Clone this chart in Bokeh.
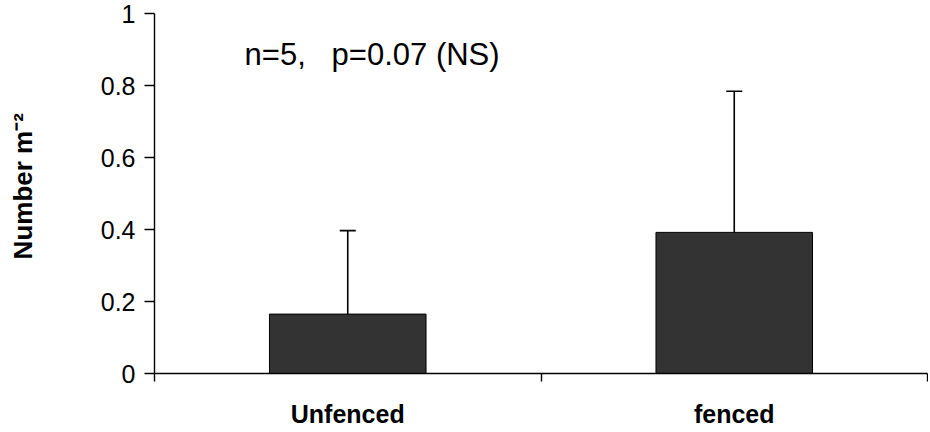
from bokeh.plotting import figure
from bokeh.models import (ColumnDataSource, FixedTicker, NumeralTickFormatter,
                          Whisker, Label, Range1d)
from bokeh.embed import file_html
from bokeh.resources import INLINE

categories = ["Unfenced", "fenced"]
means = [0.165, 0.392]
upper_err = [0.397, 0.784]
y_ticks = [0, 0.2, 0.4, 0.6, 0.8, 1.0]
NB = "\u00a0"
annotation = "n=5," + NB * 3 + "p=0.07" + NB + "(NS)"
y_label = NB * 2 + "Number" + NB + "m\u207b\u00b2"

x_pos = [i + 0.5 for i in range(len(categories))]
src = ColumnDataSource(dict(x=x_pos, top=means, upper=upper_err, cat=categories))

FONT = "Liberation Sans"

p = figure(width=928, height=430, output_backend="svg", toolbar_location=None,
           x_range=Range1d(0, len(categories)), y_range=Range1d(0, 1),
           min_border_left=154, min_border_right=1, min_border_top=13,
           min_border_bottom=55)
p.outline_line_color = None
p.grid.visible = False
p.background_fill_color = "white"

p.vbar(x="x", top="top", bottom=0, width=0.405, source=src,
       fill_color="#333333", line_color="black", line_width=1)

wh = Whisker(base="x", upper="upper", lower="top", source=src,
             line_color="black", line_width=1.6, level="glyph")
wh.upper_head.size = 16
wh.upper_head.line_width = 1.6
wh.upper_head.line_color = "black"
wh.lower_head = None
p.add_layout(wh)

# x axis: labels at category centres, tick marks at category boundaries
xa = p.xaxis[0]
xa.ticker = FixedTicker(ticks=x_pos, minor_ticks=list(range(len(categories) + 1)))
xa.major_label_overrides = {v: c for v, c in zip(x_pos, categories)}
xa.major_tick_line_color = None
xa.minor_tick_in = 0
xa.minor_tick_out = 8
xa.minor_tick_line_color = "black"
xa.minor_tick_line_width = 1.4
xa.axis_line_color = "black"
xa.axis_line_width = 1.4
xa.major_label_text_font = FONT
xa.major_label_text_font_style = "bold"
xa.major_label_text_font_size = "25px"
xa.major_label_text_color = "black"
xa.major_label_standoff = 18

ya = p.yaxis[0]
ya.ticker = FixedTicker(ticks=y_ticks)
ya.formatter = NumeralTickFormatter(format="0.[0]")
ya.minor_tick_line_color = None
ya.major_tick_in = 0
ya.major_tick_out = 10
ya.major_tick_line_color = "black"
ya.major_tick_line_width = 1.4
ya.axis_line_color = "black"
ya.axis_line_width = 1.4
ya.major_label_text_font = FONT
ya.major_label_text_font_size = "25px"
ya.major_label_text_color = "black"
ya.major_label_standoff = 9
ya.axis_label = y_label
ya.axis_label_text_font = FONT
ya.axis_label_text_font_style = "bold"
ya.axis_label_text_font_size = "26px"
ya.axis_label_text_color = "black"
ya.axis_label_standoff = 60

p.add_layout(Label(x=0.233, y=0.885, text=annotation, text_font=FONT,
                   text_font_size="31px", text_color="black",
                   text_baseline="alphabetic"))

open("out.html", "w").write(file_html(p, INLINE))
